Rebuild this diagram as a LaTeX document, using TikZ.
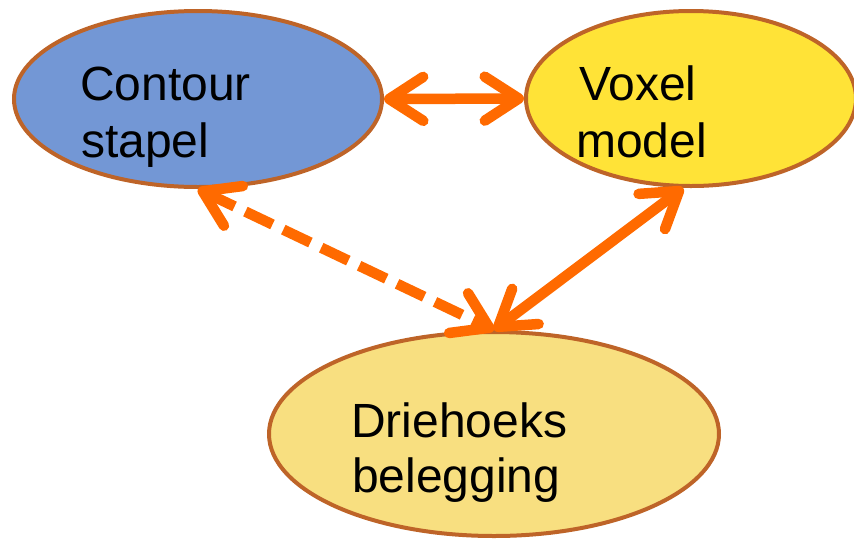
\documentclass[tikz,border=0pt]{standalone}
\usepackage{fontspec}
\setmainfont{Liberation Sans}
\usetikzlibrary{shapes.geometric,arrows.meta}
\definecolor{cblue}{RGB}{115,151,213}
\definecolor{vyel}{RGB}{255,227,55}
\definecolor{dyel}{RGB}{248,223,128}
\definecolor{bord}{RGB}{190,100,40}
\definecolor{arr}{RGB}{255,106,0}
\begin{document}
\begin{tikzpicture}[x=1pt,y=-1pt,
  blob/.style={ellipse, draw=bord, line width=4pt, inner sep=0pt},
  lbl/.style={anchor=base west, inner sep=0pt, font=\fontsize{48}{57}\selectfont},
  barb/.tip={Straight Barb[length=34pt,width=44pt,line cap=round,line join=round]},
  conn/.style={draw=arr, line width=10.5pt, barb-barb}
]
\useasboundingbox (0,0) rectangle (854,539);
\node[blob, fill=cblue, minimum width=368pt, minimum height=176pt] (c) at (198,99) {};
\node[blob, fill=vyel, minimum width=330pt, minimum height=175pt] (v) at (691,98.5) {};
\node[blob, fill=dyel, minimum width=450pt, minimum height=204pt] (d) at (494,434) {};
\draw[conn] (c.east) -- (v.west);
\draw[conn, dash pattern=on 30pt off 12pt] (c.south) -- (d.north);
\draw[conn] (v.265) -- (d.north);
\node[lbl] (ct1) at (80,100) {Contour};
\node[lbl] (ct2) at (81,157) {stapel};
\node[lbl] (vt1) at (579,100) {Voxel};
\node[lbl] (vt2) at (576,157) {model};
\node[lbl] (dt1) at (351,437) {Driehoeks};
\node[lbl] (dt2) at (352,492) {belegging};
\end{tikzpicture}
\end{document}
